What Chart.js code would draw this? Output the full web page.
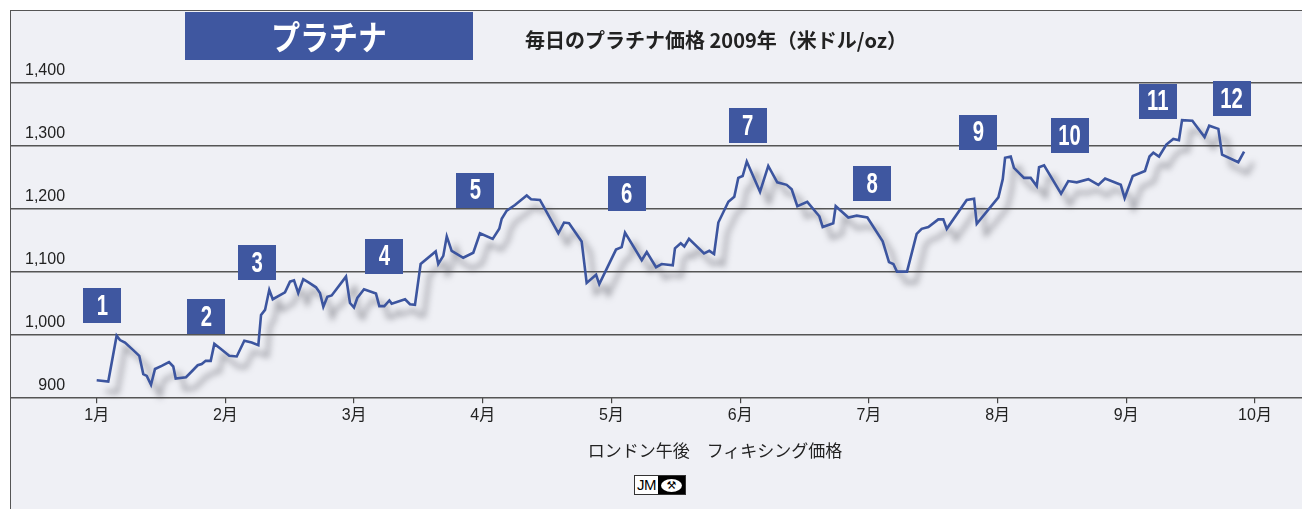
<!DOCTYPE html>
<html lang="ja">
<head>
<meta charset="utf-8">
<script src="https://cdn.jsdelivr.net/npm/chart.js@4/dist/chart.umd.min.js"></script>
<style>
  body { margin: 0; background: #fff; overflow: hidden; }
  #frame {
    position: absolute; left: 10px; top: 10px; width: 1320px; height: 520px;
    border-left: 1.5px solid #555; border-top: 1.5px solid #555;
    background: #eff0f5; overflow: hidden;
  }
  #chart { position: absolute; left: 0; top: 0; }
  #tag {
    position: absolute; left: 174px; top: 1px; width: 288px; height: 48px;
    background: #3f57a0; color: #fff; text-align: center; line-height: 48px;
    font-family: "Noto Sans CJK JP", sans-serif; font-weight: bold; font-size: 34px;
  }
  #tag span { display: inline-block; transform: scaleX(0.85); }
  #sub {
    position: absolute; left: 505px; top: 16px; width: 400px; text-align: center;
    font-family: "Noto Sans CJK JP", sans-serif; font-weight: bold; font-size: 20px; color: #222;
    line-height: 26px;
  }
  #xtitle {
    position: absolute; left: 554px; top: 428px; width: 300px; text-align: center;
    font-family: "Noto Sans CJK JP", sans-serif; font-size: 17px; color: #222; line-height: 22px;
  }
  #logo {
    position: absolute; left: 623px; top: 464px; height: 18px; border: 1px solid #333;
    display: flex; font-family: "Liberation Sans", sans-serif; font-size: 15px;
  }
  #logo .jm { background: #fff; color: #000; padding: 0 2px; line-height: 18px; letter-spacing: -0.5px; }
  #logo .mark { background: #000; width: 27px; display: flex; align-items: center; justify-content: center; }
  #logo .mark span {
    background: #fff; color: #000; border-radius: 50%; width: 21px; height: 13px;
    font-size: 11px; line-height: 13px; text-align: center; font-family: "DejaVu Sans", sans-serif;
  }
</style>
</head>
<body>
<div id="frame">
  <canvas id="chart" width="1291" height="498"></canvas>
  <div id="tag"><span>プラチナ</span></div>
  <div id="sub">毎日のプラチナ価格 2009年（米ドル/oz）</div>
  <div id="xtitle">ロンドン午後　フィキシング価格</div>
  <div id="logo"><span class="jm">JM</span><span class="mark"><span>⚒</span></span></div>
</div>
<script>
// month labels (tick i = 1st of month i+1)
const monthLabels = ['1月', '2月', '3月', '4月', '5月', '6月', '7月', '8月', '9月', '10月'];
const yTicks = [900, 1000, 1100, 1200, 1300, 1400];

// position in months counted from 1 Jan (0 = 1月, 1 = 2月 ...)
const dayPos = [
  0.00, 0.09, 0.155, 0.181, 0.220, 0.284, 0.331, 0.362, 0.389, 0.422,
  0.453, 0.505, 0.562, 0.595, 0.614, 0.694, 0.738, 0.785, 0.816, 0.847,
  0.886, 0.914, 0.958, 1.030, 1.088, 1.147, 1.204, 1.256, 1.277, 1.308,
  1.341, 1.368, 1.411, 1.463, 1.502, 1.533, 1.566, 1.605, 1.652, 1.704,
  1.735, 1.761, 1.792, 1.826, 1.937, 1.968, 1.999, 2.025, 2.077, 2.170,
  2.196, 2.235, 2.274, 2.292, 2.396, 2.434, 2.473, 2.517, 2.634, 2.654,
  2.693, 2.720, 2.758, 2.848, 2.926, 2.978, 3.077, 3.128, 3.147, 3.186,
  3.250, 3.341, 3.375, 3.444, 3.587, 3.631, 3.670, 3.768, 3.807, 3.880,
  3.905, 4.035, 4.079, 4.105, 4.235, 4.274, 4.346, 4.390, 4.476, 4.493,
  4.538, 4.566, 4.602, 4.719, 4.760, 4.797, 4.830, 4.908, 4.954, 4.985,
  5.019, 5.051, 5.154, 5.218, 5.288, 5.361, 5.400, 5.444, 5.521, 5.615,
  5.641, 5.723, 5.742, 5.840, 5.905, 5.988, 6.107, 6.156, 6.190, 6.218,
  6.296, 6.371, 6.410, 6.462, 6.539, 6.578, 6.605, 6.760, 6.817, 6.838,
  7.006, 7.040, 7.058, 7.102, 7.127, 7.205, 7.257, 7.304, 7.322, 7.361,
  7.493, 7.549, 7.615, 7.705, 7.783, 7.835, 7.957, 7.987, 8.050, 8.145,
  8.180, 8.210, 8.254, 8.311, 8.365, 8.409, 8.433, 8.513, 8.608, 8.644,
  8.715, 8.744, 8.870, 8.915
];

// London PM fix, US$/oz
const price = [
  927, 925, 998, 991, 987, 975, 966, 937, 934, 920,
  945, 950, 956, 949, 930, 932, 941, 951, 953, 958,
  958, 985, 978, 966, 965, 990, 987, 983, 1031, 1039,
  1071, 1056, 1061, 1067, 1084, 1086, 1066, 1088, 1082, 1075,
  1066, 1044, 1060, 1062, 1092, 1050, 1043, 1058, 1072, 1065,
  1045, 1045, 1054, 1049, 1056, 1048, 1047, 1112, 1132, 1112,
  1125, 1156, 1133, 1122, 1130, 1161, 1152, 1168, 1184, 1197,
  1206, 1221, 1215, 1214, 1161, 1178, 1177, 1148, 1082, 1095,
  1080, 1135, 1139, 1162, 1118, 1131, 1107, 1112, 1110, 1137,
  1145, 1140, 1152, 1129, 1133, 1128, 1178, 1211, 1219, 1249,
  1252, 1275, 1227, 1268, 1242, 1238, 1231, 1204, 1211, 1188,
  1171, 1177, 1204, 1186, 1189, 1186, 1148, 1115, 1112, 1100,
  1100, 1160, 1168, 1171, 1183, 1183, 1168, 1214, 1216, 1176,
  1218, 1247, 1281, 1283, 1265, 1249, 1249, 1236, 1266, 1269,
  1224, 1244, 1242, 1247, 1238, 1248, 1238, 1217, 1252, 1260,
  1283, 1289, 1283, 1302, 1311, 1309, 1341, 1340, 1314, 1332,
  1327, 1286, 1274, 1291
];

// month number badges, anchored in chart units
const badgeText = ['1', '2', '3', '4', '5', '6', '7', '8', '9', '10', '11', '12'];
const badgeX = [0.045, 0.852, 1.246, 2.235, 2.942, 4.118, 5.057, 6.026, 6.850, 7.559, 8.245, 8.818];
const badgeY = [1046, 1028, 1114, 1124, 1229, 1224, 1332, 1240, 1322, 1316, 1371, 1375];

const BLUE = '#3c559f';

// soft grey drop shadow under the line
const shadowPlugin = {
  id: 'shadow',
  beforeDatasetDraw(chart) {
    const ctx = chart.ctx;
    ctx.save();
    ctx.shadowColor = 'rgba(70,70,80,0.6)';
    ctx.shadowBlur = 6;
    ctx.shadowOffsetX = 9;
    ctx.shadowOffsetY = 11;
  },
  afterDatasetDraw(chart) {
    chart.ctx.restore();
  }
};

// blue number boxes
const badgePlugin = {
  id: 'badges',
  afterDatasetsDraw(chart) {
    const ctx = chart.ctx;
    const xs = chart.scales.x, ys = chart.scales.y;
    ctx.save();
    badgeText.forEach(function (t, i) {
      const cx = xs.getPixelForValue(badgeX[i]);
      const cy = ys.getPixelForValue(badgeY[i]);
      const w = 38, h = 35;
      ctx.fillStyle = '#3f57a0';
      ctx.fillRect(Math.round(cx - w / 2), Math.round(cy - h / 2), w, h);
      ctx.save();
      ctx.translate(cx, cy + 1);
      ctx.scale(0.7, 1);
      ctx.fillStyle = '#fff';
      ctx.font = 'bold 29px "Liberation Sans", Arial, sans-serif';
      ctx.textAlign = 'center';
      ctx.textBaseline = 'middle';
      ctx.fillText(t, 0, 0);
      ctx.restore();
    });
    ctx.restore();
  }
};

const ctx = document.getElementById('chart');

const chart = new Chart(ctx, {
  type: 'line',
  data: {
    datasets: [{
      label: 'プラチナ',
      data: dayPos.map(function (x, i) { return { x: x, y: price[i] }; }),
      borderColor: BLUE,
      borderWidth: 2.6,
      pointRadius: 0,
      tension: 0,
      clip: false
    }]
  },
  options: {
    responsive: false,
    animation: false,
    layout: { padding: { top: 72, bottom: 80.5, left: 0, right: 0 } },
    plugins: {
      legend: { display: false },
      tooltip: { enabled: false }
    },
    scales: {
      x: {
        type: 'linear',
        min: -0.557,
        max: 9.365,
        afterBuildTicks: function (scale) {
          scale.ticks = monthLabels.map(function (_, i) { return { value: i }; });
        },
        border: { display: false },
        grid: { drawOnChartArea: false, drawTicks: true, tickLength: 6, color: '#444', lineWidth: 1.2 },
        ticks: {
          padding: 3,
          color: '#222',
          font: { family: '"Liberation Sans", "Noto Sans CJK JP", sans-serif', size: 16 },
          maxRotation: 0,
          callback: function (v) { return monthLabels[v]; }
        }
      },
      y: {
        min: 900,
        max: 1400,
        afterBuildTicks: function (scale) {
          scale.ticks = yTicks.map(function (v) { return { value: v }; });
        },
        border: { display: false },
        grid: { drawTicks: true, tickLength: 14, color: '#555', lineWidth: 1.5 },
        ticks: {
          mirror: true,
          crossAlign: 'far',
          padding: 0,
          labelOffset: -12,
          color: '#222',
          font: { family: '"Liberation Sans", Arial, sans-serif', size: 16 },
          callback: function (v) { return v.toLocaleString('en-US'); }
        }
      }
    }
  },
  plugins: [shadowPlugin, badgePlugin]
});
</script>
</body>
</html>
